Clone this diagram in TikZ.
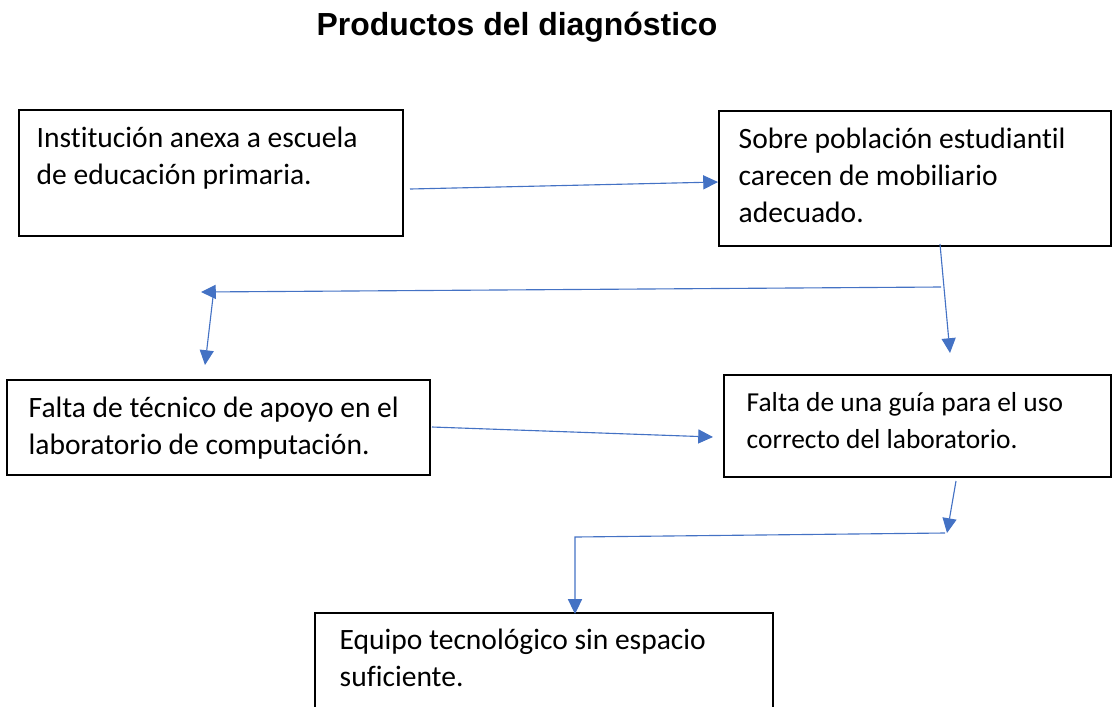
\documentclass[tikz,border=0pt]{standalone}
\usepackage{fontspec}
\setmainfont{Carlito}[Ligatures=NoCommon]
\newfontfamily\titlefont{Liberation Sans}
\usepackage{xcolor}
\usetikzlibrary{calc,positioning,fit,arrows.meta}
\definecolor{azul}{HTML}{4472C4}

\begin{document}
\begin{tikzpicture}[
	%	style def
    x=0.025cm, y=0.025cm,
    caja/.style={draw=black, line width=0.8pt, inner sep=0pt},
    texto/.style={anchor=base west, inner sep=0pt, text width=10cm,
                  font=\fontsize{21}{26.5}\selectfont,
                  execute at begin node={\spaceskip=0.226em\relax}},
    conector/.style={draw=azul, line width=0.8pt, -{Triangle[length=10.5pt, width=10pt]}}
    ]
    \useasboundingbox (0,0) rectangle (1112,-706);
    \clip (0,0) rectangle (1112,-706);

    % title
    \node[anchor=base, inner sep=0pt, font=\titlefont\bfseries\fontsize{22.7}{26}\selectfont] (titulo) at (517,-35) {Productos del diagnóstico};

    % boxes
    \node[caja, fit={(19,-110) (403,-236)}] (caja1) {};
    \node[caja, fit={(719,-111) (1111,-246)}] (caja2) {};
    \node[caja, fit={(7,-380) (430,-475)}] (caja3) {};
    \node[caja, fit={(724,-375) (1111,-477)}] (caja4) {};
    \node[caja, fit={(315,-613) (773,-720)}] (caja5) {};

    % texts inside the boxes
    \node[texto] (texto1) at ($(caja1.north west)+(18,-38)$) {Institución anexa a escuela\\de educación primaria.};
    \node[texto] (texto2) at ($(caja2.north west)+(20,-38)$) {Sobre población estudiantil\\carecen de mobiliario\\adecuado.};
    \node[texto] (texto3) at ($(caja3.north west)+(22,-38)$) {Falta de técnico de apoyo en el\\laboratorio de computación.};
    \node[texto, font=\fontsize{19.5}{26.5}\selectfont] (texto4) at ($(caja4.north west)+(23,-37)$) {Falta de una guía para el uso\\correcto del laboratorio.};
    \node[texto] (texto5) at ($(caja5.north west)+(25,-37)$) {Equipo tecnológico sin espacio\\suficiente.};

    % end points of the connectors
    \coordinate (a1) at (410,-189);
    \coordinate (a2) at (718,-182);
    \coordinate (b1) at (940,-244);
    \coordinate (b2) at (950,-353);
    \coordinate (c1) at (941,-287);
    \coordinate (c2) at (201,-292);
    \coordinate (d1) at (213,-297);
    \coordinate (d2) at (205,-365);
    \coordinate (e1) at (432,-427);
    \coordinate (e2) at (713,-437);
    \coordinate (f1) at (956,-481);
    \coordinate (f2) at (947,-533);
    \coordinate (g1) at (945,-533);
    \coordinate (g2) at (575,-537);
    \coordinate (g3) at (575,-614);

    % connectors
    \draw[conector] (a1) -- (a2);
    \draw[conector] (b1) -- (b2);
    \draw[conector] (c1) -- (c2);
    \draw[conector] (d1) -- (d2);
    \draw[conector] (e1) -- (e2);
    \draw[conector] (f1) -- (f2);
    \draw[conector] (g1) -- (g2) -- (g3);
\end{tikzpicture}
\end{document}
